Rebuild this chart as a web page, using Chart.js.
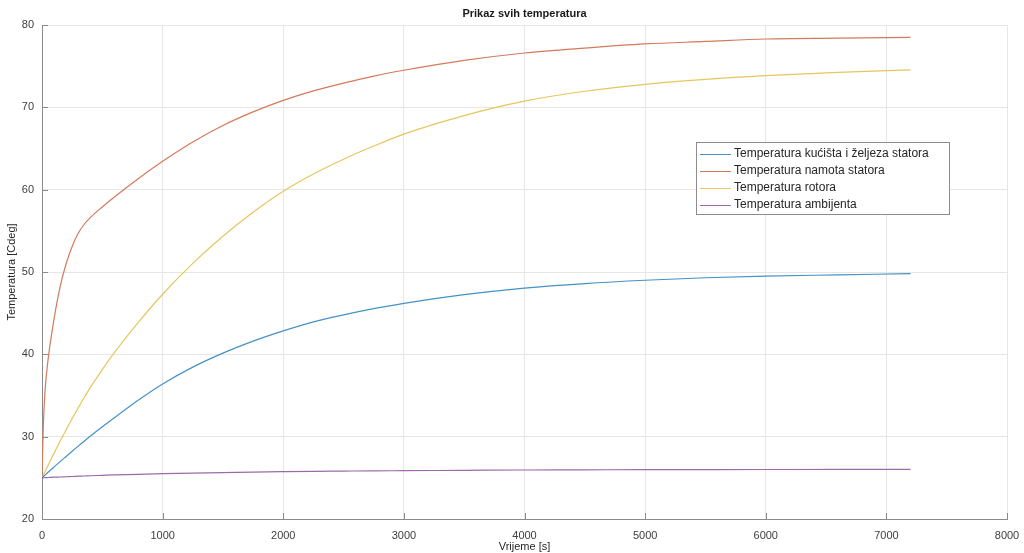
<!DOCTYPE html>
<html>
<head>
<meta charset="utf-8">
<script src="https://cdn.jsdelivr.net/npm/chart.js@4/dist/chart.umd.min.js"></script>
<style>
    html, body { margin: 0; padding: 0; background: #fff; }
    #wrap { width: 1024px; height: 553px; position: relative; }
</style>
</head>
<body>
<div id="wrap"><canvas id="tempChart" width="1024" height="553"></canvas></div>
<script>
// time samples [s]
const vrijeme = [0, 10, 25, 50, 100, 150, 200, 250, 300, 350, 400, 500, 600, 800, 1000, 1250, 1500, 1750,
                 2000, 2250, 2500, 2750, 3000, 3500, 4000, 4500, 5000, 5500, 6000, 6600, 7200];

// temperatures [Cdeg]
const tKucista = [25, 25.13, 25.33, 25.67, 26.32, 26.97, 27.6, 28.23, 28.85, 29.45, 30.05, 31.2, 32.3, 34.45, 36.4, 38.45, 40.15, 41.6,
                  42.85, 43.95, 44.8, 45.55, 46.2, 47.25, 48.05, 48.6, 49.0, 49.3, 49.5, 49.65, 49.8];
const tNamota = [25, 31, 35.5, 39.3, 44.3, 48.2, 51.0, 53.1, 54.7, 55.8, 56.6, 57.9, 59.1, 61.35, 63.45, 65.8, 67.8, 69.45,
                 70.85, 72.0, 72.95, 73.8, 74.5, 75.7, 76.6, 77.2, 77.7, 78.0, 78.3, 78.4, 78.5];
const tRotora = [25, 25.3, 25.75, 26.5, 28.0, 29.45, 30.85, 32.2, 33.5, 34.75, 35.95, 38.15, 40.2, 43.9, 47.3, 51.05, 54.35, 57.25,
                 59.8, 61.9, 63.7, 65.3, 66.75, 69.0, 70.75, 71.95, 72.8, 73.4, 73.85, 74.25, 74.55];
const tAmbijenta = [25, 25.0, 25.02, 25.04, 25.08, 25.1, 25.13, 25.16, 25.2, 25.22, 25.25, 25.3, 25.35, 25.43, 25.5, 25.57, 25.63, 25.7,
                    25.75, 25.79, 25.82, 25.85, 25.87, 25.91, 25.95, 25.97, 26.0, 26.0, 26.01, 26.02, 26.02];

const seriesNames = [
    "Temperatura kućišta i željeza statora",
    "Temperatura namota statora",
    "Temperatura rotora",
    "Temperatura ambijenta"
];
const seriesColors = ["#4592c4", "#d47a5c", "#e6c65e", "#9c6aa6"];

const xTicks = [0, 1000, 2000, 3000, 4000, 5000, 6000, 7000, 8000];
const yTicks = [20, 30, 40, 50, 60, 70, 80];

const fontFam = "'Liberation Sans', Arial, sans-serif";

function pts(ys) {
    return vrijeme.map((t, i) => ({ x: t, y: ys[i] }));
}

// MATLAB-like inward ticks
const innerTicks = {
    id: "innerTicks",
    afterDraw(chart) {
        const c = chart.ctx, a = chart.chartArea;
        const xs = chart.scales.x, ys = chart.scales.y;
        c.save();
        c.strokeStyle = "#8a8a8a";
        c.lineWidth = 1;
        c.beginPath();
        xTicks.forEach(v => {
            const px = Math.round(xs.getPixelForValue(v)) + 0.5;
            c.moveTo(px, a.bottom);
            c.lineTo(px, a.bottom - 6);
        });
        yTicks.forEach(v => {
            const py = Math.round(ys.getPixelForValue(v)) + 0.5;
            c.moveTo(a.left, py);
            c.lineTo(a.left + 6, py);
        });
        c.stroke();
        c.restore();
    }
};

// title on top
const topTitle = {
    id: "topTitle",
    afterDraw(chart) {
        const c = chart.ctx, a = chart.chartArea;
        c.save();
        c.font = "bold 11px " + fontFam;
        c.fillStyle = "#1a1a1a";
        c.textAlign = "center";
        c.textBaseline = "middle";
        c.fillText("Prikaz svih temperatura", (a.left + a.right) / 2, 14);
        c.restore();
    }
};

// legend box inside the axes
const boxLegend = {
    id: "boxLegend",
    afterDraw(chart) {
        const c = chart.ctx;
        const x0 = 696, y0 = 142, w = 253, rowH = 17;
        const h = rowH * chart.data.datasets.length + 4;
        c.save();
        c.fillStyle = "#fff";
        c.fillRect(x0, y0, w, h);
        c.strokeStyle = "#8c8c8c";
        c.lineWidth = 1;
        c.strokeRect(x0 + 0.5, y0 + 0.5, w, h);
        c.font = "12px " + fontFam;
        c.textBaseline = "middle";
        chart.data.datasets.forEach((ds, i) => {
            const yy = y0 + 12 + i * rowH;
            c.strokeStyle = ds.borderColor;
            c.beginPath();
            c.moveTo(x0 + 4, Math.round(yy) + 0.5);
            c.lineTo(x0 + 35, Math.round(yy) + 0.5);
            c.stroke();
            c.fillStyle = "#262626";
            c.fillText(ds.label, x0 + 38, yy);
        });
        c.restore();
    }
};

const ctx = document.getElementById("tempChart").getContext("2d");

new Chart(ctx, {
    type: "line",
    data: {
        datasets: [tKucista, tNamota, tRotora, tAmbijenta].map((ys, i) => ({
            label: seriesNames[i],
            data: pts(ys),
            borderColor: seriesColors[i],
            backgroundColor: seriesColors[i],
            borderWidth: 1.2,
            pointRadius: 0,
            cubicInterpolationMode: "monotone",
            fill: false
        }))
    },
    options: {
        responsive: false,
        animation: false,
        layout: { padding: { left: 0, right: 17, top: 25, bottom: 0 } },
        plugins: {
            legend: { display: false },
            title: { display: false },
            tooltip: { enabled: false }
        },
        scales: {
            x: {
                type: "linear",
                min: 0,
                max: 8000,
                afterBuildTicks: s => { s.ticks = xTicks.map(v => ({ value: v })); },
                afterFit: s => { s.height = 34; s.paddingLeft = 0; s.paddingRight = 0; },
                ticks: {
                    color: "#404040",
                    font: { family: fontFam, size: 11 },
                    padding: 10,
                    maxRotation: 0,
                    callback: v => String(v)
                },
                grid: { color: "#e6e6e6", drawTicks: false },
                border: { color: "#8a8a8a", width: 1 },
                title: {
                    display: true,
                    text: "Vrijeme [s]",
                    color: "#262626",
                    font: { family: fontFam, size: 11 },
                    padding: { top: 0, bottom: -1 }
                }
            },
            y: {
                type: "linear",
                min: 20,
                max: 80,
                afterBuildTicks: s => { s.ticks = yTicks.map(v => ({ value: v })); },
                afterFit: s => { s.width = 42; s.paddingTop = 0; s.paddingBottom = 0; },
                ticks: {
                    color: "#404040",
                    font: { family: fontFam, size: 11 },
                    padding: 8
                },
                grid: { color: "#e6e6e6", drawTicks: false },
                border: { color: "#8a8a8a", width: 1 },
                title: {
                    display: true,
                    text: "Temperatura [Cdeg]",
                    color: "#262626",
                    font: { family: fontFam, size: 11 },
                    padding: { top: 5, bottom: 0 }
                }
            }
        }
    },
    plugins: [innerTicks, topTitle, boxLegend]
});
</script>
</body>
</html>
